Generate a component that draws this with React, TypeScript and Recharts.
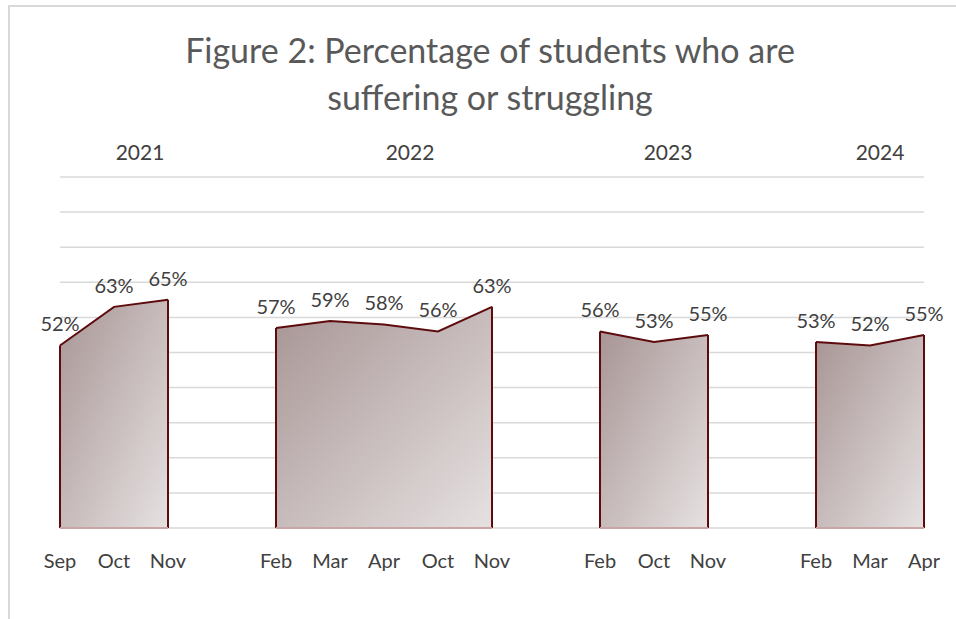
import { AreaChart, Area, XAxis, YAxis, CartesianGrid, LabelList, ReferenceLine } from 'recharts'

// months shown under the axis; '' marks the empty gap between years
const months = ['Sep', 'Oct', 'Nov', '', 'Feb', 'Mar', 'Apr', 'Oct', 'Nov', '', 'Feb', 'Oct', 'Nov', '', 'Feb', 'Mar', 'Apr']
const years = ['2021', '2022', '2023', '2024']

// percentage per year, in month order
const values2021 = [52, 63, 65]
const values2022 = [57, 59, 58, 56, 63]
const values2023 = [56, 53, 55]
const values2024 = [53, 52, 55]

const yTicks = [0, 10, 20, 30, 40, 50, 60, 70, 80, 90, 100]

const seriesValues = [values2021, values2022, values2023, values2024]

// build rows: each year fills its own run of categories, null elsewhere
const data = months.map((m, i) => ({ key: `c${i}`, month: m } as any))
const groups: { id: string; first: string; last: string; firstVal: number; lastVal: number }[] = []
{
  let idx = 0
  seriesValues.forEach((vals, s) => {
    const id = `y${years[s]}`
    data.forEach((row: any) => (row[id] = null))
    const start = idx
    vals.forEach((v) => {
      data[idx][id] = v
      idx++
    })
    groups.push({
      id,
      first: data[start].key,
      last: data[idx - 1].key,
      firstVal: vals[0],
      lastVal: vals[vals.length - 1],
    })
    idx++ // skip gap
  })
}

const font = 'Lato, "Open Sans", sans-serif'
const stroke = '#5e0b0e'

const yearLabelPos = [140, 410, 668, 880]

export default function App() {
  return (
    <div style={{ position: 'absolute', left: 0, top: 0, width: 956, height: 619, background: '#fff', fontFamily: font, overflow: 'hidden' }}>
      <div style={{ position: 'absolute', left: 8, top: 5, width: 960, height: 620, borderTop: '2px solid #d9d9d9', borderLeft: '2px solid #d9d9d9' }} />
      <div style={{ position: 'absolute', left: 0, width: 980, top: 26, textAlign: 'center', fontSize: 34, lineHeight: '47px', color: '#595959' }}>
        Figure 2: Percentage of students who are
        <br />
        suffering or struggling
      </div>
      {years.map((y, i) => (
        <div key={y} style={{ position: 'absolute', left: yearLabelPos[i] - 40, width: 80, top: 139, textAlign: 'center', fontSize: 21, color: '#404040' }}>
          {y}
        </div>
      ))}
      <div style={{ position: 'absolute', left: 0, top: 0 }}>
        <AreaChart width={956} height={619} data={data} margin={{ top: 177, right: 32, bottom: 51, left: 60 }}>
          <defs>
            {groups.map((g) => (
              <linearGradient key={g.id} id={`grad-${g.id}`} x1="0" y1="0" x2="1" y2="1">
                <stop offset="0%" stopColor="#a89595" />
                <stop offset="100%" stopColor="#e6e1e1" />
              </linearGradient>
            ))}
          </defs>
          <CartesianGrid vertical={false} stroke="#d9d9d9" strokeWidth={1.5} />
          <XAxis
            dataKey="key"
            height={40}
            axisLine={false}
            tickLine={false}
            tickMargin={20}
            interval={0}
            tickFormatter={(_v: any, i: number) => months[i]}
            tick={{ fontSize: 20, fill: '#404040', fontFamily: font }}
          />
          <YAxis hide domain={[0, 100]} ticks={yTicks} />
          {groups.map((g) => (
            <Area
              key={g.id}
              type="linear"
              dataKey={g.id}
              stroke={stroke}
              strokeWidth={2}
              fill={`url(#grad-${g.id})`}
              fillOpacity={1}
              isAnimationActive={false}
              dot={false}
              activeDot={false}
            >
              <LabelList
                dataKey={g.id}
                position="top"
                offset={14}
                formatter={(v: any) => (v == null ? '' : `${v}%`)}
                style={{ fontSize: 20, fill: '#404040', fontFamily: font }}
              />
            </Area>
          ))}
          {groups.map((g) => [
            <ReferenceLine key={g.id + 'a'} segment={[{ x: g.first, y: 0 }, { x: g.first, y: g.firstVal }]} stroke={stroke} strokeWidth={2} />,
            <ReferenceLine key={g.id + 'b'} segment={[{ x: g.last, y: 0 }, { x: g.last, y: g.lastVal }]} stroke={stroke} strokeWidth={2} />,
            <ReferenceLine key={g.id + 'c'} segment={[{ x: g.first, y: 0 }, { x: g.last, y: 0 }]} stroke="#c9a5a5" strokeWidth={2} />,
          ])}
        </AreaChart>
      </div>
    </div>
  )
}
